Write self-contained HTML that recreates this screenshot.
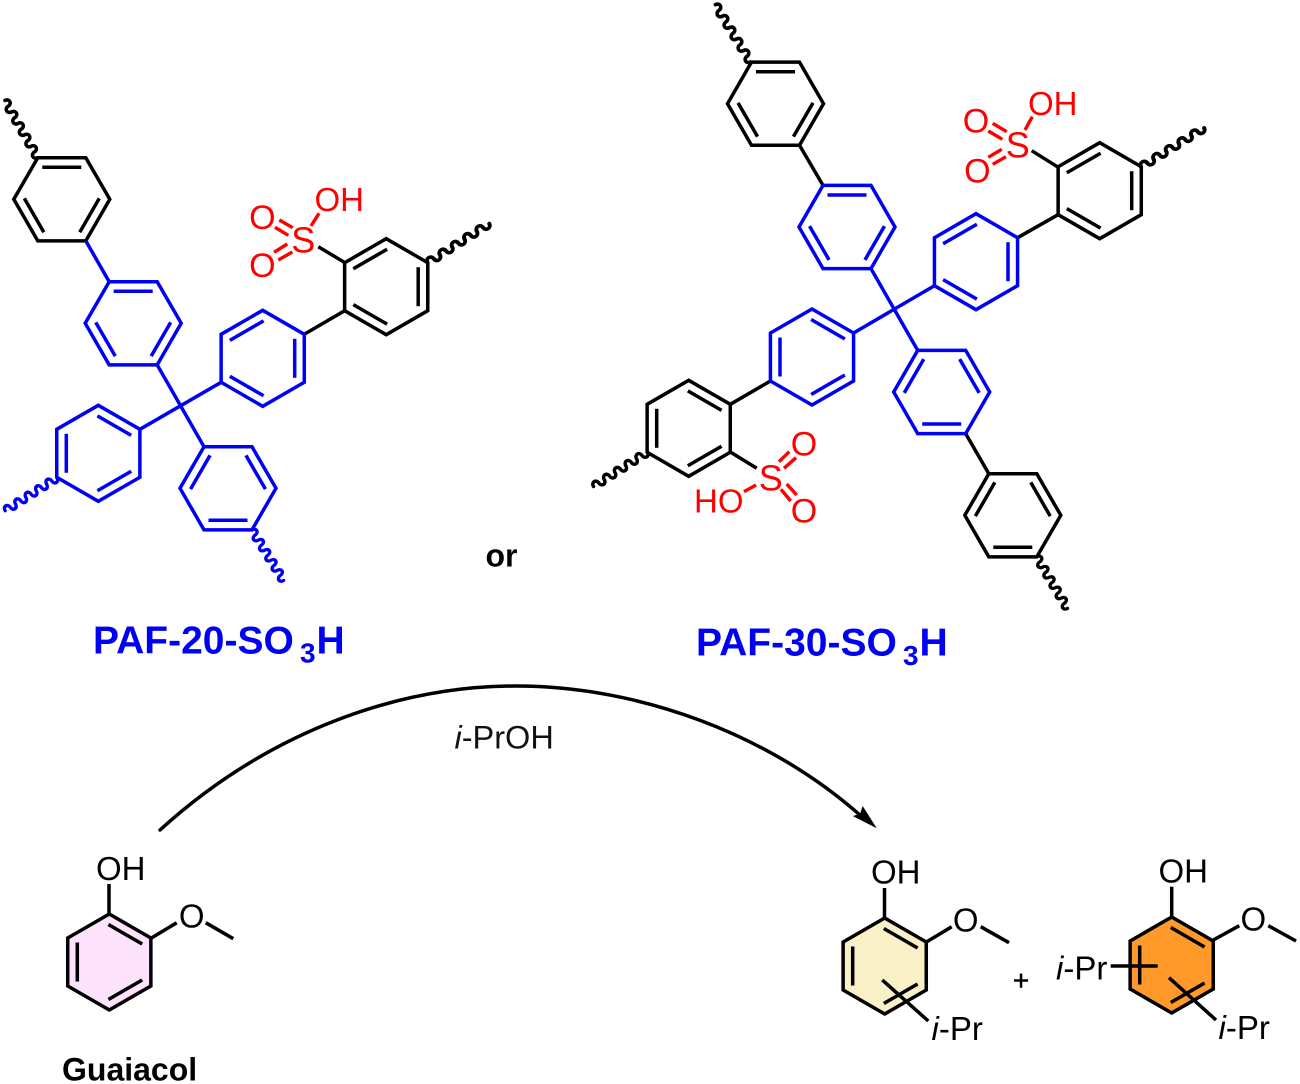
<!DOCTYPE html>
<html lang="en">
<head>
<meta charset="utf-8">
<title>PAF-SO3H catalysed alkylation of guaiacol</title>
<style>
html,body{margin:0;padding:0;background:#fff;width:1300px;height:1084px;overflow:hidden}
svg{display:block}
text{font-family:"Liberation Sans",Arial,sans-serif}
</style>
</head>
<body>
<svg width="1300" height="1084" viewBox="0 0 1300 1084">
<defs>
<path id="fh" d="M-24 -41.57L24 -41.57L48 0L24 41.57L-24 41.57L-48 0Z"/>
<path id="ph" d="M0 -48L41.57 -24L41.57 24L0 48L-41.57 24L-41.57 -24Z"/>
<line id="in" x1="-19.5" y1="-32" x2="19.5" y2="-32"/>
<g id="FA"><use href="#fh"/><use href="#in"/><use href="#in" transform="rotate(120)"/><use href="#in" transform="rotate(240)"/></g>
<g id="FB"><use href="#fh"/><use href="#in" transform="rotate(60)"/><use href="#in" transform="rotate(180)"/><use href="#in" transform="rotate(300)"/></g>
<g id="PA"><use href="#ph"/><use href="#in" transform="rotate(90)"/><use href="#in" transform="rotate(210)"/><use href="#in" transform="rotate(330)"/></g>
<g id="PB"><use href="#ph"/><use href="#in" transform="rotate(30)"/><use href="#in" transform="rotate(150)"/><use href="#in" transform="rotate(270)"/></g>
<path id="w" d="M0 0a3.2 3.7 0 0 1 6.4 0a3.2 3.7 0 0 0 6.4 0a3.2 3.7 0 0 1 6.4 0a3.2 3.7 0 0 0 6.4 0a3.2 3.7 0 0 1 6.4 0a3.2 3.7 0 0 0 6.4 0a3.2 3.7 0 0 1 6.4 0a3.2 3.7 0 0 0 6.4 0a3.2 3.7 0 0 1 6.4 0a3.2 3.7 0 0 0 6.4 0"/>
</defs>

<!-- filled rings -->
<polygon fill="#fde2fc" points="109.3,914 150.9,938 150.9,986 109.3,1010 67.7,986 67.7,938"/>
<polygon fill="#f9f0c8" points="884.7,918 926.3,942 926.3,990 884.7,1014 843.1,990 843.1,942"/>
<polygon fill="#ff9a2a" points="1171.7,917 1213.3,941 1213.3,989 1171.7,1013 1130.1,989 1130.1,941"/>

<!-- PAF-20 black -->
<g fill="none" stroke="#000" stroke-width="3.5">
<use href="#FA" x="61.8" y="199.3"/>
<use href="#PA" x="386.2" y="286.7"/>
<line x1="304.3" y1="334.3" x2="344.6" y2="310.7"/>
<line x1="318.3" y1="246.7" x2="345" y2="262.7"/>
<use href="#w" transform="translate(37.7 157.7) rotate(-119.8) scale(1.03 1)" stroke-linecap="round"/>
<use href="#w" transform="translate(427.6 262.7) rotate(-32.4) scale(1.14 1)" stroke-linecap="round"/>
</g>
<!-- PAF-20 blue -->
<g fill="none" stroke="#0000f5" stroke-width="3.5">
<use href="#FA" x="133.2" y="323.3"/>
<use href="#PA" x="262.7" y="358.3"/>
<use href="#PB" x="98.3" y="453.3"/>
<use href="#FB" x="228" y="488.3"/>
<line x1="85.8" y1="240.9" x2="109.2" y2="281.7"/>
<line x1="157.2" y1="364.9" x2="204" y2="446.7"/>
<line x1="221.1" y1="382.3" x2="139.9" y2="429.3"/>
<use href="#w" transform="translate(57 477.7) rotate(147.6) scale(.96 1)" stroke-linecap="round"/>
<use href="#w" transform="translate(252 530) rotate(58) scale(.93 1)" stroke-linecap="round"/>
</g>
<!-- PAF-20 sulfonic -->
<g stroke="#f00" stroke-width="3.4" fill="none">
<line x1="279.3" y1="220" x2="292.7" y2="227.7"/>
<line x1="275" y1="227.3" x2="288.3" y2="235.3"/>
<line x1="274" y1="252.3" x2="287.3" y2="244"/>
<line x1="278.3" y1="260" x2="292.3" y2="252"/>
<line x1="311" y1="226" x2="319" y2="213.3"/>
</g>
<g fill="#f00" font-size="34">
<text x="303.3" y="252.5" text-anchor="middle" font-size="36">S</text>
<text x="262.3" y="229" text-anchor="middle">O</text>
<text x="262.3" y="276.8" text-anchor="middle">O</text>
<text x="314.5" y="211" font-size="33">OH</text>
</g>

<!-- PAF-30 black -->
<g fill="none" stroke="#000" stroke-width="3.5">
<use href="#FA" x="775.5" y="103.7"/>
<use href="#PA" x="1099.7" y="190.7"/>
<use href="#PB" x="688.7" y="428.3"/>
<use href="#FB" x="1012.8" y="515.3"/>
<line x1="799.5" y1="145.3" x2="823" y2="185.4"/>
<line x1="1017.6" y1="237.7" x2="1058.1" y2="214.7"/>
<line x1="770.4" y1="381" x2="730.3" y2="404.3"/>
<line x1="965.7" y1="433.6" x2="988.8" y2="473.7"/>
<line x1="1031.7" y1="150.7" x2="1058.3" y2="167.3"/>
<line x1="756.7" y1="468.3" x2="730.3" y2="452"/>
<use href="#w" transform="translate(750.5 62) rotate(-121.5) scale(1.05 1)" stroke-linecap="round"/>
<use href="#w" transform="translate(1141 167) rotate(-31.8) scale(1.16 1)" stroke-linecap="round"/>
<use href="#w" transform="translate(647.4 452) rotate(147.4) scale(1 1)" stroke-linecap="round"/>
<use href="#w" transform="translate(1036.7 556.7) rotate(59.3) scale(.94 1)" stroke-linecap="round"/>
</g>
<!-- PAF-30 blue -->
<g fill="none" stroke="#0000f5" stroke-width="3.5">
<use href="#FA" x="847" y="227"/>
<use href="#PA" x="976" y="261.7"/>
<use href="#PB" x="812" y="357"/>
<use href="#FB" x="941.7" y="392"/>
<line x1="871" y1="268.6" x2="917.7" y2="350.4"/>
<line x1="934.4" y1="285.7" x2="853.6" y2="333"/>
</g>
<!-- PAF-30 sulfonic -->
<g stroke="#f00" stroke-width="3.4" fill="none">
<line x1="988.3" y1="131" x2="1002.3" y2="139.3"/>
<line x1="992.7" y1="123.3" x2="1006.7" y2="131.7"/>
<line x1="988.3" y1="157.3" x2="1001.7" y2="149.3"/>
<line x1="992.7" y1="164.3" x2="1006" y2="156.7"/>
<line x1="1025" y1="130" x2="1032.3" y2="116.7"/>
<line x1="779" y1="461.7" x2="789.3" y2="451.7"/>
<line x1="784" y1="468.3" x2="796" y2="457.7"/>
<line x1="786.7" y1="484" x2="796.7" y2="495"/>
<line x1="781" y1="489.3" x2="790.7" y2="501"/>
<line x1="756" y1="485" x2="744" y2="491.7"/>
</g>
<g fill="#f00" font-size="34">
<text x="1017.7" y="157.5" text-anchor="middle" font-size="36">S</text>
<text x="976" y="132.4" text-anchor="middle">O</text>
<text x="977.3" y="182.4" text-anchor="middle">O</text>
<text x="1028" y="115" font-size="33">OH</text>
<text x="770.7" y="490.5" text-anchor="middle" font-size="36">S</text>
<text x="804" y="455.7" text-anchor="middle">O</text>
<text x="804" y="522.4" text-anchor="middle">O</text>
<text x="694" y="512.7" font-size="33">HO</text>
</g>

<!-- captions -->
<g fill="#0000f5" font-weight="bold">
<text x="93" y="653.3" font-size="39">PAF-20-SO</text>
<text x="300" y="662.5" font-size="28">3</text>
<text x="316.5" y="653.3" font-size="39">H</text>
<text x="696" y="655.7" font-size="39">PAF-30-SO</text>
<text x="903" y="664.8" font-size="28">3</text>
<text x="919.5" y="655.7" font-size="39">H</text>
</g>
<text x="485.5" y="566.7" font-size="32" font-weight="bold" fill="#000">or</text>

<!-- arrow -->
<path d="M160 830C270 730 400 686 516 686C640 686 770 735 861 816" fill="none" stroke="#000" stroke-width="3.5" stroke-linecap="round"/>
<polygon points="876.7,828.3 852.7,816 860,814 862.7,806" fill="#000"/>
<text x="454.5" y="748.3" font-size="32.5" fill="#111"><tspan font-style="italic">i</tspan>-PrOH</text>

<!-- guaiacol -->
<g fill="none" stroke="#000" stroke-width="3.5">
<use href="#PB" x="109.3" y="962"/>
<line x1="109" y1="914" x2="109" y2="884"/>
<line x1="151" y1="938.3" x2="176.7" y2="922.7"/>
<line x1="205.7" y1="922.7" x2="233.3" y2="938.7"/>
</g>
<text x="96" y="880" font-size="33" fill="#000">OH</text>
<text x="191.7" y="927.5" font-size="33" text-anchor="middle" fill="#000">O</text>
<text x="62" y="1080.7" font-size="32" font-weight="bold" fill="#000">Guaiacol</text>

<!-- product 1 -->
<g fill="none" stroke="#000" stroke-width="3.5">
<use href="#PB" x="884.7" y="966"/>
<line x1="884.5" y1="918" x2="884.5" y2="888"/>
<line x1="926" y1="942.3" x2="951.7" y2="926.7"/>
<line x1="980.7" y1="926.7" x2="1009" y2="942.7"/>
<line x1="882.3" y1="980" x2="928.3" y2="1021"/>
</g>
<text x="871" y="883.3" font-size="33" fill="#000">OH</text>
<text x="965.7" y="931.5" font-size="33" text-anchor="middle" fill="#000">O</text>
<text x="931.5" y="1040" font-size="33" fill="#000"><tspan font-style="italic">i</tspan>-Pr</text>
<text x="1021" y="990" font-size="28" stroke="#000" stroke-width=".5" text-anchor="middle" fill="#000">+</text>

<!-- product 2 -->
<g fill="none" stroke="#000" stroke-width="3.5">
<use href="#PB" x="1171.7" y="965"/>
<line x1="1171.7" y1="917" x2="1171.7" y2="886.7"/>
<line x1="1213.3" y1="940" x2="1239.3" y2="925.7"/>
<line x1="1268.3" y1="925.7" x2="1296" y2="941"/>
<line x1="1110.7" y1="966" x2="1157.7" y2="966"/>
<line x1="1169" y1="977.7" x2="1216" y2="1020"/>
</g>
<text x="1158.5" y="882.3" font-size="33" fill="#000">OH</text>
<text x="1253.3" y="930.5" font-size="33" text-anchor="middle" fill="#000">O</text>
<text x="1056" y="979.3" font-size="33" fill="#000"><tspan font-style="italic">i</tspan>-Pr</text>
<text x="1218.5" y="1039" font-size="33" fill="#000"><tspan font-style="italic">i</tspan>-Pr</text>
</svg>
</body>
</html>
